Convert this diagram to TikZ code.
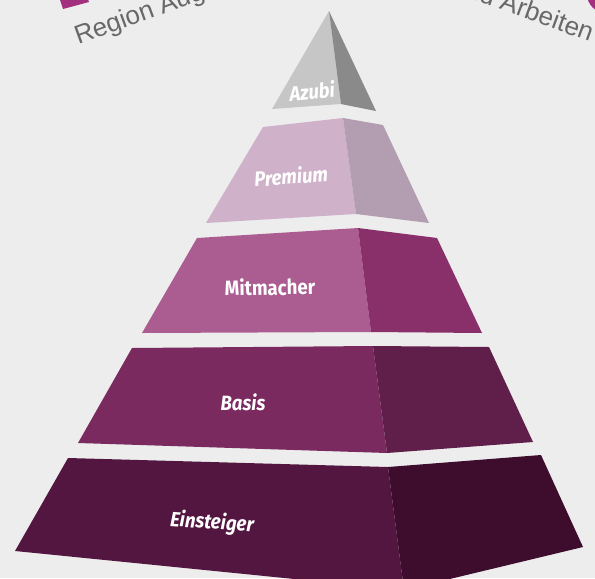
\documentclass[tikz,border=0pt]{standalone}
\usepackage{fontspec}
\usepackage{tikz}
\newfontfamily\tierfont[FakeStretch=0.9]{Fira Sans}
\newfontfamily\headfont{Liberation Sans}
\definecolor{bgGray}{HTML}{EDEDED}
\definecolor{headGray}{HTML}{686868}
\definecolor{accMagenta}{HTML}{A3307F}
\definecolor{azubiFront}{HTML}{C6C6C6}
\definecolor{azubiSide}{HTML}{8A8A8A}
\definecolor{premFront}{HTML}{CFB1C9}
\definecolor{premSide}{HTML}{B39DB0}
\definecolor{mitFront}{HTML}{AB5D92}
\definecolor{mitSide}{HTML}{89306B}
\definecolor{basFront}{HTML}{7B2A60}
\definecolor{basSide}{HTML}{5F1F4A}
\definecolor{einFront}{HTML}{531640}
\definecolor{einSide}{HTML}{3E0D2D}
\tikzset{
  tierlabel/.style={text=white,inner sep=0.75pt,font=\tierfont\bfseries\itshape\fontsize{15.5}{17}\selectfont},
  headlabel/.style={text=headGray,inner sep=0pt,font=\headfont\fontsize{19.5}{21}\selectfont}
}

\begin{document}
\begin{tikzpicture}[x=0.75pt,y=0.75pt,yscale=-1,xscale=1]
    %set diagram frame: 595 x 578
    \useasboundingbox (0,0) rectangle (595,578);
    \fill [bgGray] (0,0) rectangle (595,578);
    \clip (0,0) rectangle (595,578);

    %Shape: Rectangle top left
    \fill [accMagenta] (58,-6) -- (86,-6) -- (89,2) -- (63,9) -- cycle ;
    %Shape: Circle top right
    \fill [accMagenta] (606,-6) circle (19) ;

    %Shape: Polygon Azubi front
    \fill [azubiFront] (329,11) -- (341,104) -- (272,109) -- cycle ;
    %Shape: Polygon Azubi side
    \fill [azubiSide] (329,11) -- (376,111) -- (341,104) -- cycle ;

    %Shape: Polygon Premium front
    \fill [premFront] (263,127) -- (343,118) -- (356,214) -- (206,223) -- cycle ;
    %Shape: Polygon Premium side
    \fill [premSide] (343,118) -- (383,125) -- (429,223) -- (356,214) -- cycle ;

    %Shape: Polygon Mitmacher front
    \fill [mitFront] (197,238) -- (358,228) -- (371,332) -- (142,333) -- cycle ;
    %Shape: Polygon Mitmacher side
    \fill [mitSide] (358,228) -- (437,238) -- (482,333) -- (371,332) -- cycle ;

    %Shape: Polygon Basis front
    \fill [basFront] (132,348) -- (373,346) -- (387,453) -- (78,443) -- cycle ;
    %Shape: Polygon Basis side
    \fill [basSide] (373,346) -- (489,347) -- (533,442) -- (387,453) -- cycle ;

    %Shape: Polygon Einsteiger front
    \fill [einFront] (68,458) -- (388,467) -- (404,590) -- (15,551) -- cycle ;
    %Shape: Polygon Einsteiger side
    \fill [einSide] (388,467) -- (541,455) -- (583,547) -- (404,590) -- cycle ;

    % Text Node
    \draw (312,91) node [tierlabel,rotate=5] (azubi) {Azubi};
    % Text Node
    \draw (291,176) node [tierlabel,rotate=4] (premium) {Premium};
    % Text Node
    \draw (270,287) node [tierlabel,rotate=1] (mitmacher) {\upshape Mitmacher};
    % Text Node
    \draw (243,402) node [tierlabel] (basis) {Basis};
    % Text Node
    \draw (212,523) node [tierlabel,rotate=-4] (einsteiger) {Einsteiger};
    % Text Node
    \draw (78,45) node [headlabel,anchor=base west,rotate=20] (region) {Region Aug};
    % Text Node
    \draw (590,42) node [headlabel,anchor=base east,rotate=-20] (arbeiten) {und Arbeiten};

\end{tikzpicture}
\end{document}
